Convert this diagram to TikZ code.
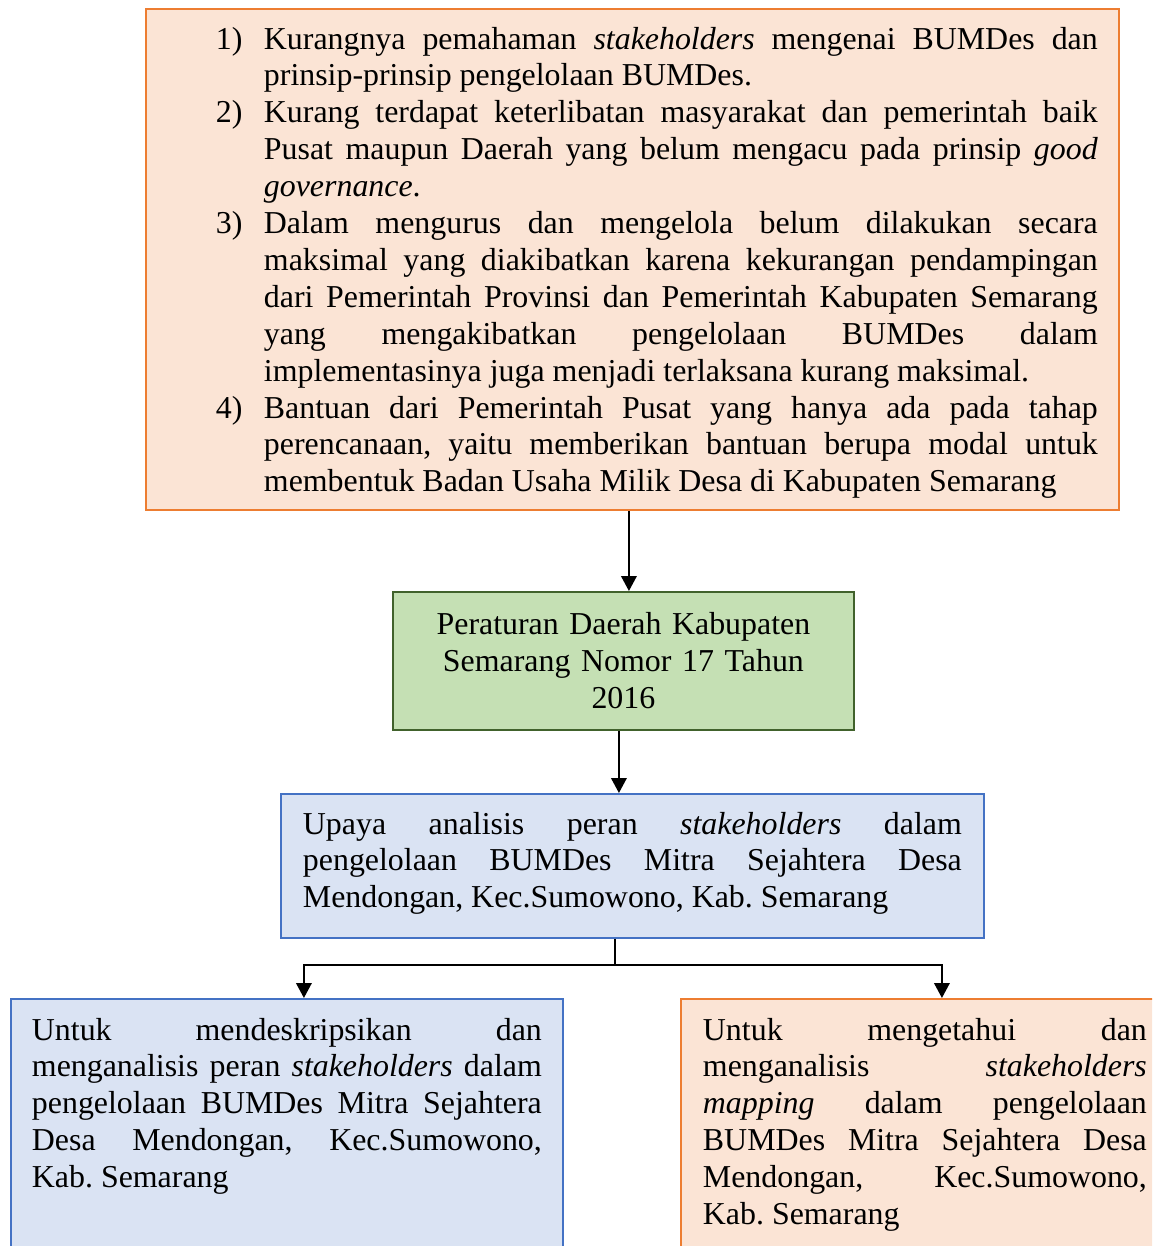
\documentclass[tikz,border=0pt]{standalone}
\usepackage{fontspec}
\setmainfont{Liberation Serif}
\usetikzlibrary{arrows.meta}
\usetikzlibrary{positioning}

\definecolor{oranyeisi}{HTML}{FBE4D5}
\definecolor{oranyegaris}{HTML}{ED7D31}
\definecolor{hijauisi}{HTML}{C5E0B4}
\definecolor{hijaugaris}{HTML}{41622C}
\definecolor{biruisi}{HTML}{DAE3F3}
\definecolor{birugaris}{HTML}{4472C4}

\begin{document}
\begin{tikzpicture}[x=0.02cm,y=-0.02cm,
  font=\fontsize{18.15}{21}\selectfont,
  kotak/.style={rectangle,line width=1.1pt,inner ysep=0.36cm,inner xsep=0.42cm,anchor=north west},
  oranye/.style={kotak,draw=oranyegaris,fill=oranyeisi},
  biru/.style={kotak,draw=birugaris,fill=biruisi},
  panah/.style={-{Triangle[length=0.3cm,width=0.31cm]},line width=1.2pt}]
\clip (0,0) rectangle (1152,1246);
\frenchspacing \tolerance=10000 \hbadness=10000 \hyphenpenalty=10000

% masalah
\node[oranye] (masalah) at (145,8) {\begin{minipage}[t][9.3cm][t]{18.62cm}
\leftskip=0.98cm
\hangindent=0.96cm\hangafter=1\noindent\makebox[0.96cm][l]{1)}Kurangnya pemahaman \textit{stakeholders} mengenai BUMDes dan\linebreak prinsip-prinsip pengelolaan BUMDes.\par
\hangindent=0.96cm\hangafter=1\noindent\makebox[0.96cm][l]{2)}Kurang terdapat keterlibatan masyarakat dan pemerintah baik\linebreak Pusat maupun Daerah yang belum mengacu pada prinsip \textit{good}\linebreak \textit{governance}.\par
\hangindent=0.96cm\hangafter=1\noindent\makebox[0.96cm][l]{3)}Dalam mengurus dan mengelola belum dilakukan secara\linebreak maksimal yang diakibatkan karena kekurangan pendampingan\linebreak dari Pemerintah Provinsi dan Pemerintah Kabupaten Semarang\linebreak yang mengakibatkan pengelolaan BUMDes dalam\linebreak implementasinya juga menjadi terlaksana kurang maksimal.\par
\hangindent=0.96cm\hangafter=1\noindent\makebox[0.96cm][l]{4)}Bantuan dari Pemerintah Pusat yang hanya ada pada tahap\linebreak perencanaan, yaitu memberikan bantuan berupa modal untuk\linebreak membentuk Badan Usaha Milik Desa di Kabupaten Semarang\par
\end{minipage}};

% perda
\node[kotak,draw=hijaugaris,fill=hijauisi,inner xsep=0.41cm,inner ysep=0pt,
  text width=8.4cm,minimum height=2.76cm,align=center] (perda) at (392,591)
  {Peraturan Daerah Kabupaten\\Semarang Nomor 17 Tahun\\2016};

% upaya
\node[biru,inner xsep=0.44cm] (upaya) at (280,793) {\begin{minipage}[t][2.16cm][t]{13.18cm}
Upaya analisis peran \textit{stakeholders} dalam\linebreak pengelolaan BUMDes Mitra Sejahtera Desa\linebreak Mendongan, Kec.Sumowono, Kab. Semarang
\end{minipage}};

% tujuan
\node[biru,inner ysep=0.38cm] (kiri) at (10,998) {\begin{minipage}[t][6cm][t]{10.2cm}
Untuk mendeskripsikan dan\linebreak menganalisis peran \textit{stakeholders} dalam\linebreak pengelolaan BUMDes Mitra Sejahtera\linebreak Desa Mendongan, Kec.Sumowono,\linebreak Kab. Semarang
\end{minipage}};
\node[oranye,inner xsep=0.44cm,inner ysep=0.38cm] (kanan) at (680,998) {\begin{minipage}[t][6cm][t]{8.88cm}
Untuk mengetahui dan\linebreak menganalisis \textit{stakeholders}\linebreak \textit{mapping} dalam pengelolaan\linebreak BUMDes Mitra Sejahtera Desa\linebreak Mendongan, Kec.Sumowono,\linebreak Kab. Semarang
\end{minipage}};

\coordinate (cabang) at (615,965);
\draw[panah] ([xshift=0.11cm]perda.north |- masalah.south) -- ([xshift=0.11cm]perda.north);
\draw[panah] ([xshift=-0.09cm]perda.south) -- ([xshift=-0.09cm]perda.south |- upaya.north);
\draw[line width=1.2pt] (upaya.south -| cabang) -- (cabang);
\draw[panah] (cabang) -| ([xshift=0.34cm]kiri.north);
\draw[panah] (cabang) -| ([xshift=0.34cm]kanan.north);

\end{tikzpicture}
\end{document}
